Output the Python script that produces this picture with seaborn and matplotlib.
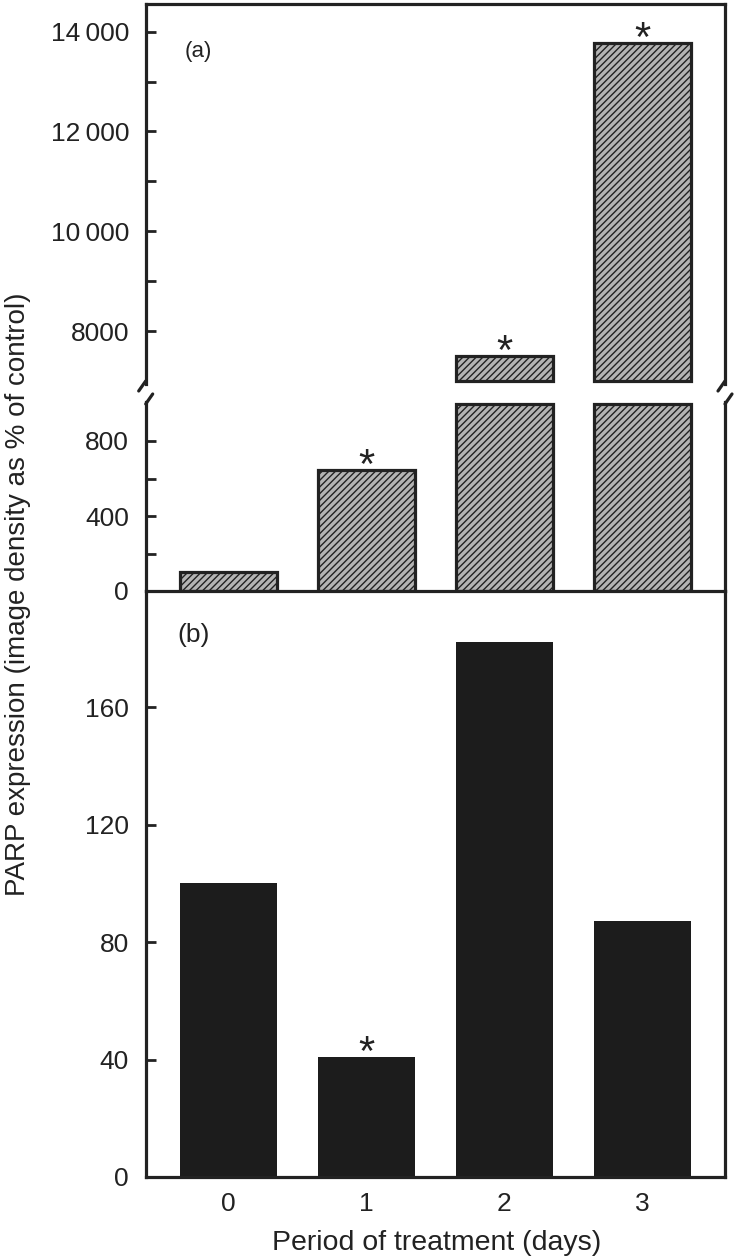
import numpy as np
import pandas as pd
import matplotlib
matplotlib.use("Agg")
import matplotlib.pyplot as plt
from matplotlib.lines import Line2D
import seaborn as sns

# ---------------- data ----------------
days = ["0", "1", "2", "3"]
parp_a = [100, 645, 7500, 13780]          # panel (a), % of control
sig_a = [False, True, True, True]
parp_b = [100, 41, 182, 87]               # panel (b), % of control
sig_b = [False, True, False, False]

upper_ticks = [8000, 10000, 12000, 14000]
upper_ticklabels = ["8000", "10\u2009000", "12\u2009000", "14\u2009000"]
upper_minor = [9000, 11000, 13000]
mid_ticks = [0, 400, 800]
mid_minor = [200, 600]
b_ticks = [0, 40, 80, 120, 160]

xlabel = "Period of treatment (days)"
ylabel = "PARP expression (image density as % of control)"
panel_a = "(a)"
panel_b = "(b)"

# ---------------- style ----------------
sns.set_theme(style="white")
plt.rcParams["font.family"] = ["Liberation Sans", "DejaVu Sans"]
plt.rcParams["hatch.linewidth"] = 1.0
plt.rcParams["hatch.color"] = "#2a2a2a"

INK = "#222222"
BREAK_LO = 7000
MID_TOP = 1000
SPINE_LW = 2.3
TICK_FS = 19

W_PX, H_PX = 737, 1257
fig = plt.figure(figsize=(W_PX / 100, H_PX / 100), dpi=100)

x0_px, x1_px = 145.7, 725.0


def axes_rect(top_px, bot_px):
    return [x0_px / W_PX, 1 - bot_px / H_PX, (x1_px - x0_px) / W_PX, (bot_px - top_px) / H_PX]


ax_b = fig.add_axes(axes_rect(591, 1177))
ax_mid = fig.add_axes(axes_rect(402, 591))
ax_up = fig.add_axes(axes_rect(4, 384))

df_a = pd.DataFrame({"day": days, "value": parp_a, "sig": sig_a})
df_b = pd.DataFrame({"day": days, "value": parp_b, "sig": sig_b})

hatch_kw = dict(color="#b4b4b4", edgecolor=INK, linewidth=2.3, hatch="/////",
                saturation=1, width=0.7, errorbar=None)

# upper (broken) segment of panel (a)
up = df_a[df_a["value"] > BREAK_LO].copy()
up["h"] = up["value"] - BREAK_LO
sns.barplot(data=up, x="day", y="h", order=days, bottom=BREAK_LO, ax=ax_up, **hatch_kw)

# lower segment of panel (a)
mid = df_a.copy()
mid["h"] = np.minimum(mid["value"], MID_TOP)
sns.barplot(data=mid, x="day", y="h", order=days, ax=ax_mid, **hatch_kw)

# panel (b)
sns.barplot(data=df_b, x="day", y="value", order=days, ax=ax_b, color="#1c1c1c",
            saturation=1, width=0.7, linewidth=0, errorbar=None)

for ax in (ax_up, ax_mid, ax_b):
    ax.patch.set_alpha(0)
    ax.set_xlim(-0.6, 3.6)
    ax.set_xlabel("")
    ax.set_ylabel("")
    for s in ax.spines.values():
        s.set_color(INK)
        s.set_linewidth(SPINE_LW)
        s.set_zorder(5)
    ax.tick_params(axis="y", which="both", direction="in", length=7, width=2,
                   color=INK, left=True, right=False, labelsize=TICK_FS,
                   labelcolor=INK, pad=12)

ax_up.set_ylim(6940, 14555)
ax_up.set_yticks(upper_ticks)
ax_up.set_yticklabels(upper_ticklabels)
ax_up.set_yticks(upper_minor, minor=True)
ax_up.spines["bottom"].set_visible(False)
ax_up.tick_params(axis="x", bottom=False, labelbottom=False)

ax_mid.set_ylim(0, 1008)
ax_mid.set_yticks(mid_ticks)
ax_mid.set_yticks(mid_minor, minor=True)
ax_mid.spines["top"].set_visible(False)
ax_mid.tick_params(axis="x", bottom=False, labelbottom=False)

ax_b.set_ylim(0, 199.5)
ax_b.set_yticks(b_ticks)
ax_b.spines["top"].set_visible(False)
ax_b.tick_params(axis="x", bottom=False, length=0, labelsize=TICK_FS,
                 labelcolor=INK, pad=11)

for ax in (ax_up, ax_mid, ax_b):
    for lab in ax.get_yticklabels() + ax.get_xticklabels():
        lab.set_family(["Liberation Sans", "DejaVu Sans"])

# significance asterisks
for i, (v, s) in enumerate(zip(parp_a, sig_a)):
    if s:
        tgt = ax_up if v > BREAK_LO else ax_mid
        tgt.annotate("*", xy=(i, v), xytext=(0, -6), textcoords="offset points",
                     ha="center", va="baseline", fontsize=30, color=INK)
for i, (v, s) in enumerate(zip(parp_b, sig_b)):
    if s:
        ax_b.annotate("*", xy=(i, v), xytext=(0, -6), textcoords="offset points",
                      ha="center", va="baseline", fontsize=30, color=INK)

# panel labels
ax_up.text(0.068, 0.876, panel_a, transform=ax_up.transAxes, fontsize=16,
           ha="left", va="center", color=INK)
ax_b.text(0.054, 0.925, panel_b, transform=ax_b.transAxes, fontsize=19,
          ha="left", va="center", color=INK)


# axis-break marks (pixel geometry)
def fig_line(p, q):
    (xa, ya), (xb, yb) = p, q
    fig.add_artist(Line2D([xa / W_PX, xb / W_PX], [1 - ya / H_PX, 1 - yb / H_PX],
                          transform=fig.transFigure, color=INK, lw=SPINE_LW,
                          solid_capstyle="round"))


for xs in (x0_px, x1_px):
    fig_line((xs, 381), (xs - 7, 391))
    fig_line((xs + 7, 394), (xs, 404))

fig.text(0.024, 1 - 594 / H_PX, ylabel, rotation=90, ha="center", va="center",
         fontsize=20, color=INK)
fig.text(437 / W_PX, 1 - 1243 / H_PX, xlabel, ha="center", va="center",
         fontsize=20.5, color=INK)

fig.savefig("out.png", dpi=100)
